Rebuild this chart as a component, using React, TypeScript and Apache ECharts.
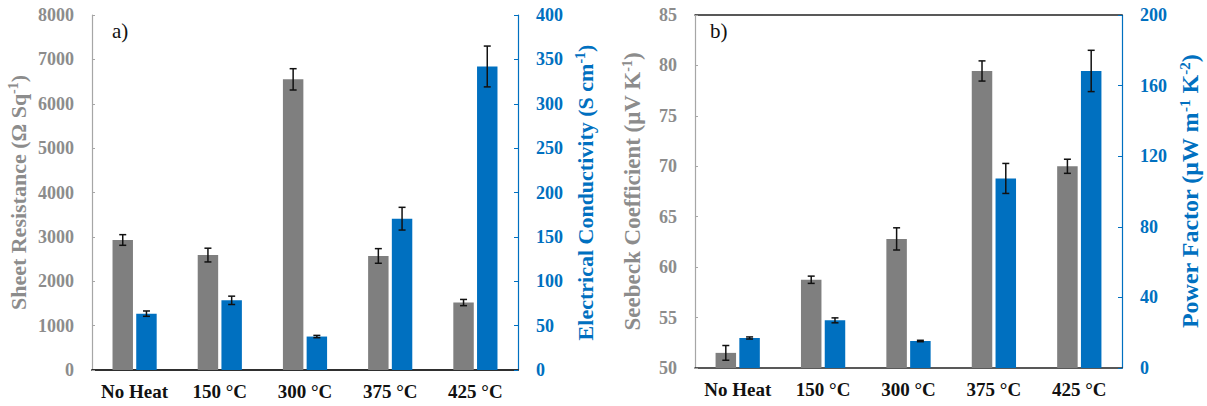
import React, { useEffect, useRef } from "react";
import * as echarts from "echarts";

const categories = ["No Heat", "150 °C", "300 °C", "375 °C", "425 °C"];

const sheetResistance = [2930, 2590, 6550, 2570, 1520];
const sheetResistanceErr = [120, 155, 240, 165, 70];
const conductivity = [63.5, 78.5, 37.7, 170.5, 342];
const conductivityErr = [3, 4.7, 1.3, 12.8, 23];

const seebeck = [51.5, 58.75, 62.8, 79.45, 70.0];
const seebeckErr = [0.73, 0.36, 1.1, 1.0, 0.7];
const powerFactor = [17.0, 27.0, 15.3, 107.4, 168.3];
const powerFactorErr = [0.6, 1.4, 0.4, 8.5, 11.7];

const GRAY = "#7f7f7f";
const BLUE = "#0070C0";
const FONT = "Liberation Serif";
const BAR_W = 0.24;
const BAR_GAP = 0.16;

function errData(vals: number[], errs: number[]) {
  return vals.map((v, i) => [i, v - errs[i], v + errs[i]]);
}

function errSeries(xi: number, yi: number, vals: number[], errs: number[], side: number) {
  return {
    type: "custom",
    xAxisIndex: xi,
    yAxisIndex: yi,
    z: 10,
    silent: true,
    data: errData(vals, errs),
    renderItem: (params: any, api: any) => {
      const cat = api.value(0);
      const lo = api.value(1);
      const hi = api.value(2);
      const band = api.size([1, 0])[0];
      const bw = band * BAR_W;
      const gap = bw * BAR_GAP;
      const off = side * (bw / 2 + gap / 2);
      const p1 = api.coord([cat, lo]);
      const p2 = api.coord([cat, hi]);
      const x = p1[0] + off;
      const cap = 3.5;
      const style = { stroke: "#111", lineWidth: 1.5 };
      return {
        type: "group",
        children: [
          { type: "line", shape: { x1: x, y1: p1[1], x2: x, y2: p2[1] }, style },
          { type: "line", shape: { x1: x - cap, y1: p1[1], x2: x + cap, y2: p1[1] }, style },
          { type: "line", shape: { x1: x - cap, y1: p2[1], x2: x + cap, y2: p2[1] }, style },
        ],
      };
    },
  };
}

const plain = (v: number) => String(v);

function nameStyle(color: string, size: number) {
  return {
    color,
    fontFamily: FONT,
    fontWeight: "bold",
    fontSize: size,
    lineHeight: size + 2,
    rich: {
      sup: {
        color,
        fontFamily: FONT,
        fontWeight: "bold",
        fontSize: Math.round(size * 0.62),
        verticalAlign: "top",
        lineHeight: size + 2,
      },
    },
  };
}

function leftAxis(gi: number, name: string, min: number, max: number, interval: number, gap: number, size: number) {
  return {
    type: "value",
    gridIndex: gi,
    position: "left",
    min,
    max,
    interval,
    startValue: min,
    name,
    nameLocation: "middle",
    nameGap: gap,
    nameTextStyle: nameStyle("#8c8c8c", size),
    axisLine: { show: true, lineStyle: { color: "#a6a6a6", width: 1.2 } },
    axisTick: { show: true, inside: true, length: 3, lineStyle: { color: "#a6a6a6" } },
    axisLabel: { color: "#8c8c8c", fontFamily: FONT, fontWeight: "bold", fontSize: 18, margin: 18, formatter: plain },
    splitLine: { show: false },
  };
}

function rightAxis(gi: number, name: string, min: number, max: number, interval: number, gap: number, size: number) {
  return {
    type: "value",
    gridIndex: gi,
    position: "right",
    min,
    max,
    interval,
    name,
    nameLocation: "middle",
    nameGap: gap,
    nameTextStyle: nameStyle(BLUE, size),
    axisLine: { show: true, lineStyle: { color: BLUE, width: 1.2 } },
    axisTick: { show: true, inside: true, length: 4, lineStyle: { color: BLUE } },
    axisLabel: { color: BLUE, fontFamily: FONT, fontWeight: "bold", fontSize: 18, margin: 18, formatter: plain },
    splitLine: { show: false },
  };
}

function bottomAxis(gi: number) {
  return {
    type: "category",
    gridIndex: gi,
    position: "bottom",
    data: categories,
    axisLine: { show: true, lineStyle: { color: "#222", width: 1.5 } },
    axisTick: { show: false },
    axisLabel: {
      interval: 0,
      hideOverlap: false,
      color: "#111",
      fontFamily: FONT,
      fontWeight: "bold",
      fontSize: 19,
      margin: 12,
    },
  };
}

function topAxis(gi: number) {
  return {
    type: "category",
    gridIndex: gi,
    position: "top",
    data: categories,
    axisLine: { show: true, lineStyle: { color: "#222", width: 1.5 } },
    axisTick: { show: false },
    axisLabel: { show: false },
  };
}

function barSeries(xi: number, yi: number, data: number[], color: string) {
  return {
    type: "bar",
    xAxisIndex: xi,
    yAxisIndex: yi,
    data,
    barWidth: BAR_W * 100 + "%",
    barGap: BAR_GAP * 100 + "%",
    clip: true,
    itemStyle: { color },
  };
}

export default function App() {
  const ref = useRef<HTMLDivElement>(null);
  useEffect(() => {
    if (!ref.current) return;
    const chart = echarts.init(ref.current, null, { renderer: "svg" });
    chart.setOption({
      animation: false,
      backgroundColor: "#ffffff",
      grid: [
        { left: 92, right: 689, top: 15, bottom: 36 },
        { left: 695, right: 85, top: 15, bottom: 38 },
      ],
      xAxis: [bottomAxis(0), topAxis(0), bottomAxis(1), topAxis(1)],
      yAxis: [
        leftAxis(0, "Sheet Resistance (Ω Sq{sup|-1})", 0, 8000, 1000, 62, 22),
        rightAxis(0, "Electrical Conductivity (S cm{sup|-1})", 0, 400, 50, 55, 22),
        leftAxis(1, "Seebeck Coefficient (μV K{sup|-1})", 50, 85, 5, 50, 23),
        rightAxis(1, "Power Factor (μW m{sup|-1} K{sup|-2})", 0, 200, 40, 55, 24),
      ],
      graphic: [
        { type: "text", left: 112, top: 20, style: { text: "a)", fontFamily: FONT, fontSize: 21, fill: "#111" } },
        { type: "text", left: 710, top: 20, style: { text: "b)", fontFamily: FONT, fontSize: 21, fill: "#111" } },
      ],
      series: [
        barSeries(0, 0, sheetResistance, GRAY),
        barSeries(0, 1, conductivity, BLUE),
        errSeries(0, 0, sheetResistance, sheetResistanceErr, -1),
        errSeries(0, 1, conductivity, conductivityErr, 1),
        barSeries(2, 2, seebeck, GRAY),
        barSeries(2, 3, powerFactor, BLUE),
        errSeries(2, 2, seebeck, seebeckErr, -1),
        errSeries(2, 3, powerFactor, powerFactorErr, 1),
      ],
    });
    return () => chart.dispose();
  }, []);
  return (
    <div
      ref={ref}
      style={{ position: "fixed", left: 0, top: 0, width: 1207, height: 406, background: "#fff" }}
    />
  );
}
